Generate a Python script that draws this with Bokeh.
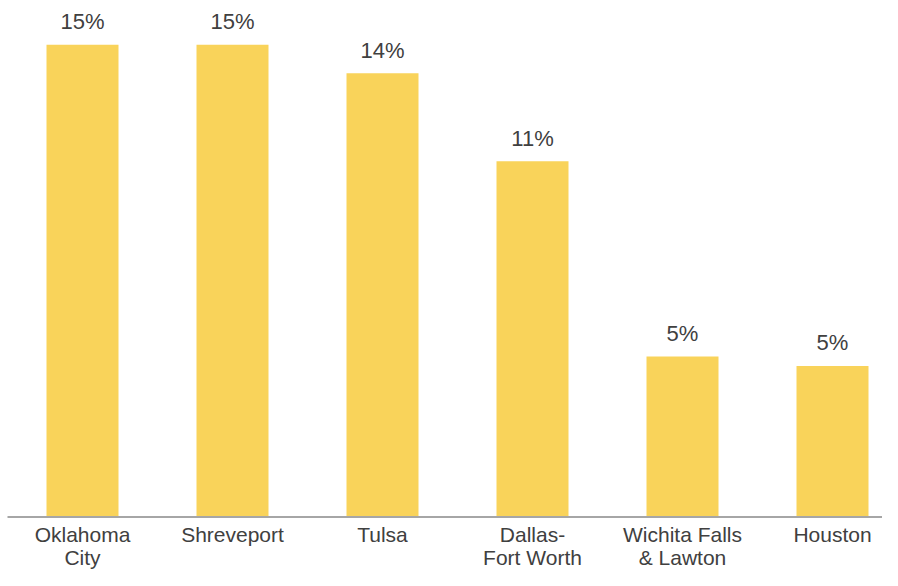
from bokeh.plotting import figure
from bokeh.models import ColumnDataSource, Range1d
from bokeh.core.properties import value
from bokeh.embed import file_html
from bokeh.resources import INLINE

cities = ["Oklahoma\nCity", "Shreveport", "Tulsa", "Dallas-\nFort Worth", "Wichita Falls\n& Lawton", "Houston"]
shares = [15.0, 15.0, 14.1, 11.3, 5.1, 4.8]
share_labels = ["15%", "15%", "14%", "11%", "5%", "5%"]

W, H = 882, 570
FONT = "Liberation Sans"
TXT = "#404040"

xs = list(range(len(cities)))
zeros = [0] * len(cities)
src = ColumnDataSource(dict(x=xs, top=shares, lab=share_labels, cat=cities, zero=zeros))

# layout: 150 px per category, first centre 82 px from left; baseline 516.5 px from top
px_per_cat = 150.0
first_centre = 82.0
base_px = 516.5
px_per_unit = (base_px - 44.3) / 15.0

p = figure(width=W, height=H, output_backend="svg", toolbar_location=None,
           x_range=Range1d(-first_centre / px_per_cat, (W - first_centre) / px_per_cat),
           y_range=Range1d(-(H - base_px) / px_per_unit, base_px / px_per_unit),
           min_border_left=0, min_border_right=0, min_border_top=0, min_border_bottom=0)

p.vbar(x="x", top="top", width=0.48, bottom=0, source=src,
       fill_color="#F9D35A", line_color=None)

# axis baseline
p.segment(x0=-0.5, y0=0, x1=len(cities) - 0.5, y1=0, line_color="#A6A6A6", line_width=2)

# value labels
p.text(x="x", y="top", text="lab", source=src, y_offset=-23,
       text_align="center", text_baseline="alphabetic",
       text_font=value(FONT), text_font_size="22px", text_color=TXT)

# category labels
p.text(x="x", y="zero", text="cat", source=src, y_offset=6,
       text_align="center", text_baseline="top", text_line_height=1.0,
       text_font=value(FONT), text_font_size="21px", text_color=TXT)

p.xaxis.visible = False
p.yaxis.visible = False
p.xgrid.visible = False
p.ygrid.visible = False
p.outline_line_color = None

open("out.html", "w").write(file_html(p, INLINE))
